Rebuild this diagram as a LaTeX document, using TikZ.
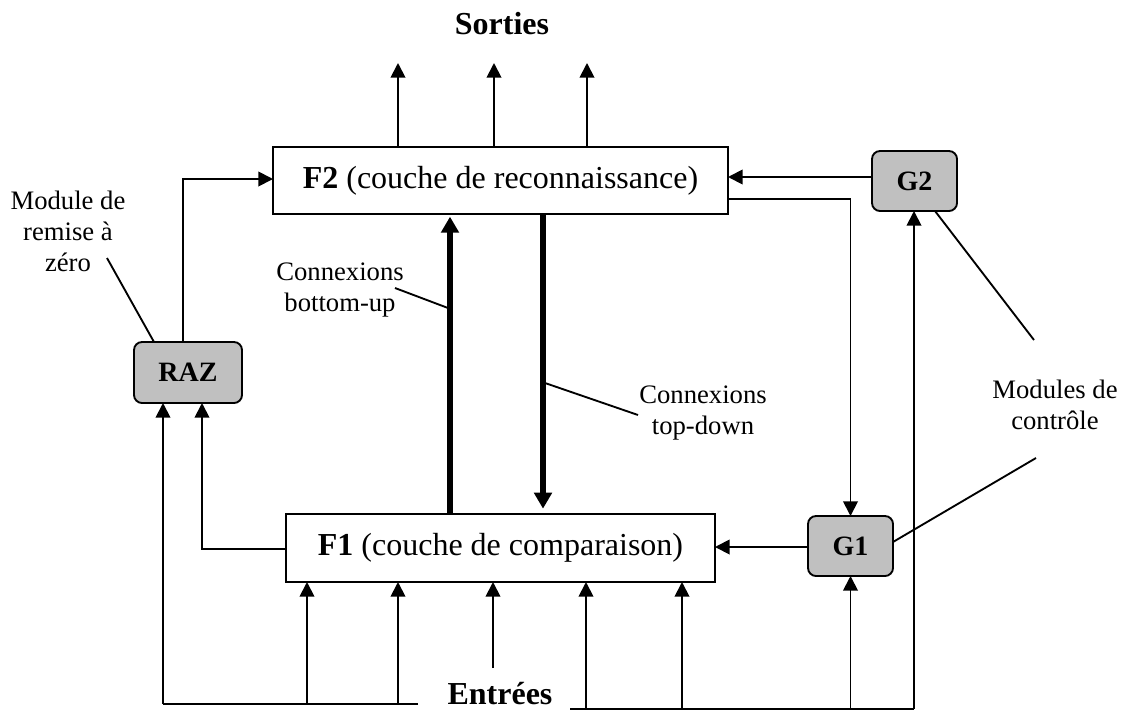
\documentclass[tikz,border=0pt]{standalone}
\usepackage{fontspec}
\setmainfont{Liberation Serif}
\usetikzlibrary{arrows.meta}
\definecolor{ctrlgray}{RGB}{192,192,192}
\begin{document}
\begin{tikzpicture}[x=0.75pt,y=-0.75pt,
  line width=1.4pt,
  arr/.style={-{Triangle[length=11pt,width=11pt]}},
  bigarr/.style={line width=4.5pt,-{Triangle[length=12pt,width=13pt]}},
  layer/.style={draw,rectangle,inner sep=0pt,outer sep=0pt,
    font=\fontsize{24}{28}\selectfont},
  ctrl/.style={draw,rounded corners=6pt,fill=ctrlgray,inner sep=0pt,outer sep=0pt,
    minimum width=63.75pt,minimum height=45pt,font=\fontsize{21}{24}\selectfont\bfseries},
  note/.style={align=center,font=\fontsize{20}{23.25}\selectfont,inner sep=0pt,anchor=north},
  heading/.style={font=\fontsize{24}{28}\selectfont\bfseries,inner sep=0pt,anchor=base}]

\useasboundingbox (0,0) rectangle (1122,711);

% layers
\node[layer,minimum width=341.25pt,minimum height=50.25pt] (F2) at (500.5,180.5)
  {\textbf{F2} (couche de reconnaissance)};
\node[layer,minimum width=321.75pt,minimum height=51pt] (F1) at (500.5,548)
  {\textbf{F1} (couche de comparaison)};

% control modules
\node[ctrl] (G2) at (914.5,181) {G2};
\node[ctrl] (G1) at (850.5,546) {G1};
\node[ctrl,minimum width=81pt,minimum height=45.75pt] (RAZ) at (188,372.5) {RAZ};

% headings
\node[heading] (sorties) at (502,34) {Sorties};
\node[heading] (entrees) at (500,704) {Entrées};

% outputs of F2
\foreach \x/\n in {398/a,494/b,587/c}{
  \coordinate (out\n) at (\x,63);
  \draw[arr] (F2.north -| out\n) -- (out\n);
}

% inputs of F1
\coordinate (botL) at (418,704);
\coordinate (botR) at (570,709);
\coordinate (midin) at (493,668);
\coordinate (leftc) at (163,704);
\coordinate (rightc) at (914,709);
\foreach \x in {307,398}{
  \draw[arr] (\x,704) -- (F1.south -| \x,0);
}
\draw[arr] (midin) -- (F1.south -| midin);
\foreach \x in {586,682}{
  \draw[arr] (\x,709) -- (F1.south -| \x,0);
}
\draw (botL) -- (leftc);
\draw[arr] (leftc) -- (RAZ.south -| leftc);
\draw (botR) -- (rightc);
\draw[arr] (rightc) -- (G2.south -| rightc);
\draw[arr] (G1.south |- rightc) -- (G1.south);

% reset module
\coordinate (razF1) at (202,549);
\coordinate (razF2) at (183,179);
\draw[arr] (F1.west |- razF1) -- (razF1) -- (RAZ.south -| razF1);
\draw[arr] (RAZ.north -| razF2) -- (razF2) -- (F2.west |- razF2);

% control connections
\coordinate (g2in) at (0,177);
\coordinate (f2out) at (0,199);
\coordinate (g1out) at (0,547);
\draw[arr] (G2.west |- g2in) -- (F2.east |- g2in);
\draw[arr] (F2.east |- f2out) -| (G1.north);
\draw[arr] (G1.west |- g1out) -- (F1.east |- g1out);

% bottom-up / top-down connections
\coordinate (bu) at (450,0);
\coordinate (td) at (543,0);
\draw[bigarr] (F1.north -| bu) -- ([yshift=-2pt]F2.south -| bu);
\draw[bigarr,shorten >=4pt] (F2.south -| td) -- (F1.north -| td);

% annotations
\node[note] (nraz) at (68,190) {Module de\\remise à\\zéro};
\node[note] (nbu) at (340,262) {Connexions\\bottom-up};
\node[note] (ntd) at (703,385) {Connexions\\top-down};
\node[note] (nctrl) at (1055,379) {Modules de\\contrôle};

\coordinate (araz) at (107,258);
\coordinate (abu) at (395,288);
\coordinate (abu2) at (448,308);
\coordinate (atd) at (638,415);
\coordinate (atd2) at (545,383);
\coordinate (ag2) at (1034,340);
\coordinate (ag1) at (1036,458);
\draw (araz) -- (RAZ.north -| 154,0);
\draw (abu) -- (abu2);
\draw (atd) -- (atd2);
\draw (ag2) -- (G2.south -| 935,0);
\draw (ag1) -- (G1.east |- 0,542);
\end{tikzpicture}
\end{document}
